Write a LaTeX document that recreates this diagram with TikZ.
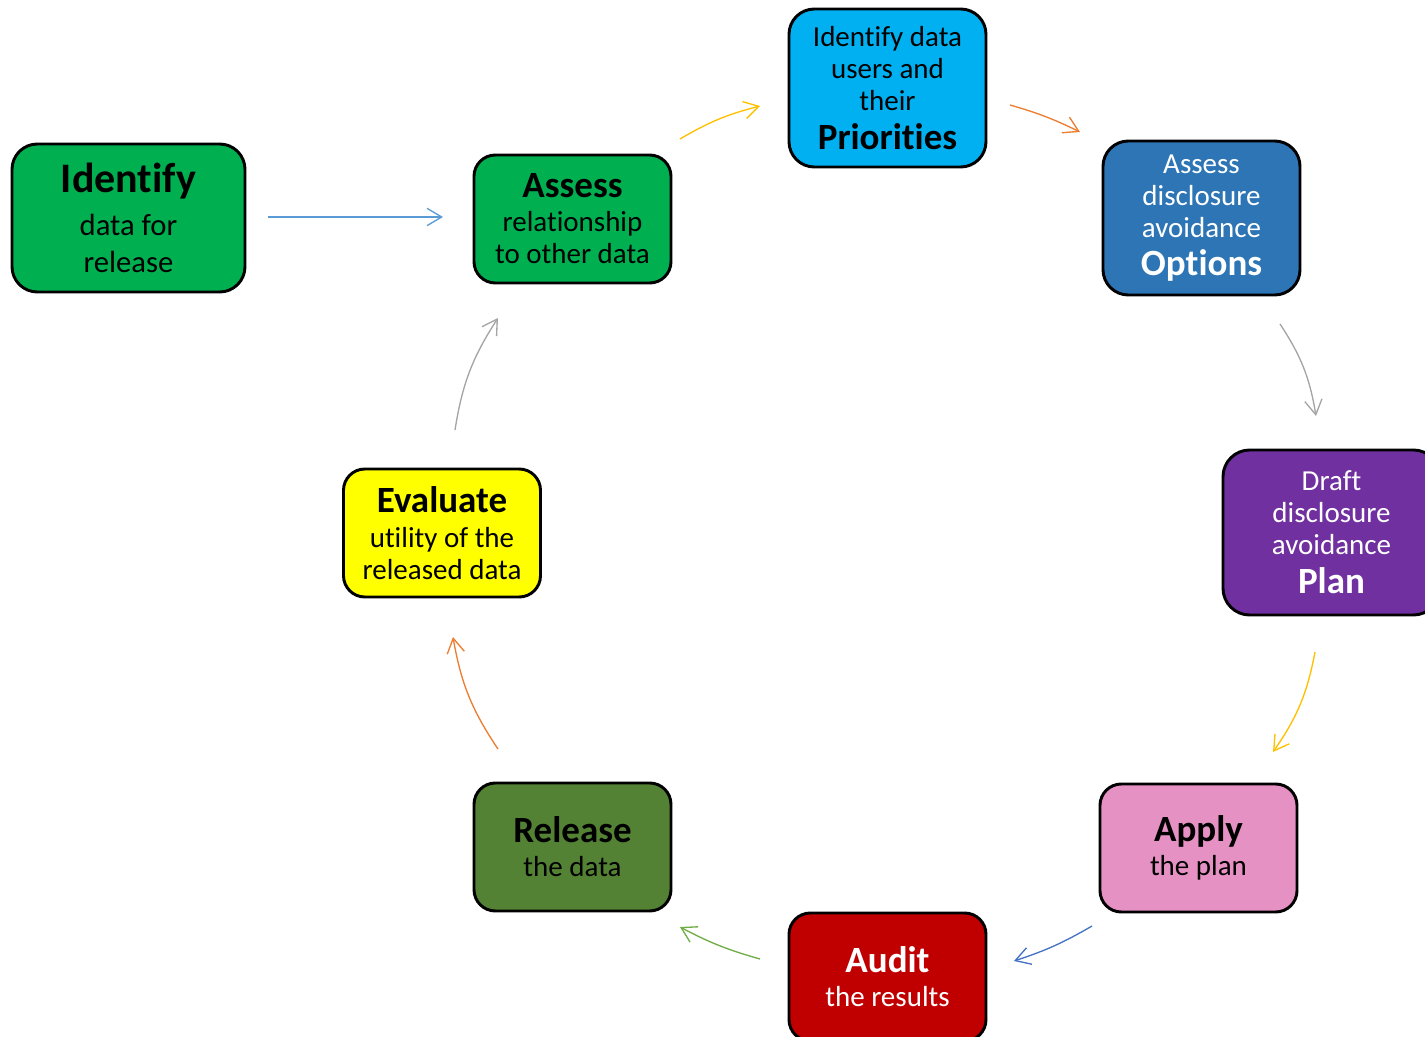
\documentclass[tikz,border=0pt]{standalone}
\usepackage{fontspec}
\setmainfont{Carlito}[Ligatures=NoCommon]
\usetikzlibrary{arrows.meta}
\definecolor{cGreen}{HTML}{00B050}
\definecolor{cCyan}{HTML}{00B0F0}
\definecolor{cBlue}{HTML}{2E75B6}
\definecolor{cPurple}{HTML}{7030A0}
\definecolor{cPink}{HTML}{E691C3}
\definecolor{cRed}{HTML}{C00000}
\definecolor{cOlive}{HTML}{548235}
\definecolor{cYellow}{HTML}{FFFF00}
\definecolor{aBlueL}{HTML}{5B9BD5}
\definecolor{aBlue}{HTML}{4472C4}
\definecolor{aGold}{HTML}{FFC000}
\definecolor{aOrange}{HTML}{ED7D31}
\definecolor{aGray}{HTML}{A5A5A5}
\definecolor{aGreen}{HTML}{70AD47}
\newcommand\steptitle[1]{{\bfseries\fontsize{27.75}{24}\selectfont #1}}
\begin{document}
\begin{tikzpicture}[x=0.75pt,y=0.75pt,
  stage/.style={draw=black, line width=2.2pt, rounded corners=16pt,
    minimum width=147.75pt, minimum height=96pt, inner sep=0pt,
    align=center, font=\fontsize{21.75}{24}\selectfont},
  flow/.style={line width=1pt, -{Straight Barb[length=11pt,width=13pt]}}]
\useasboundingbox (0,0) rectangle (1425,-1037);

\node[stage, fill=cGreen, minimum width=174.75pt, minimum height=111pt, rounded corners=19pt,
  font=\fontsize{23}{27.75}\selectfont] (identify) at (128.5,-218)
  {{\bfseries\fontsize{31.5}{27.75}\selectfont Identify}\\[4.5pt] data for\\ release};
\node[stage, fill=cGreen] (assess) at (572.5,-219)
  {\steptitle{Assess}\\[1.5pt] relationship\\ to other data};
\node[stage, fill=cCyan, minimum height=118.5pt, rounded corners=19pt] (prio) at (887.5,-88)
  {Identify data\\ users and\\ their\\[5pt] \steptitle{Priorities}};
\node[stage, fill=cBlue, text=white, minimum height=115.5pt, rounded corners=19pt] (options) at (1201.5,-218)
  {Assess\\ disclosure\\ avoidance\\[5pt] \steptitle{Options}};
\node[stage, fill=cPurple, text=white, minimum width=162.75pt, minimum height=123.75pt, rounded corners=20pt] (plan) at (1331.5,-532.5)
  {Draft\\ disclosure\\ avoidance\\[5pt] \steptitle{Plan}};
\node[stage, fill=cPink] (apply) at (1198.5,-848)
  {\steptitle{Apply}\\[1.5pt] the plan};
\node[stage, fill=cRed, text=white] (audit) at (887.5,-977)
  {\steptitle{Audit}\\[1.5pt] the results};
\node[stage, fill=cOlive] (release) at (572.5,-847)
  {\steptitle{Release}\\[1.5pt] the data};
\node[stage, fill=cYellow] (evaluate) at (442,-533)
  {\steptitle{Evaluate}\\[2pt] utility of the\\ released data};

\coordinate (a1s) at (268,-217);  \coordinate (a1e) at (443,-217);
\coordinate (a2s) at (680,-139);  \coordinate (a2e) at (760,-106);
\coordinate (a3s) at (1010,-105); \coordinate (a3e) at (1080,-132);
\coordinate (a4s) at (1280,-324); \coordinate (a4e) at (1316,-416);
\coordinate (a5s) at (1315,-652); \coordinate (a5e) at (1273,-752);
\coordinate (a6s) at (1092,-926); \coordinate (a6e) at (1014,-961);
\coordinate (a7s) at (760,-959);  \coordinate (a7e) at (680,-927);
\coordinate (a8s) at (498,-749);  \coordinate (a8e) at (453,-637);
\coordinate (a9s) at (455,-430);  \coordinate (a9e) at (498,-318);

\draw[flow, aBlueL] (a1s) -- (a1e);
\draw[flow, aGold] (a2s) to[bend left=8] (a2e);
\draw[flow, aOrange] (a3s) to[bend left=5] (a3e);
\draw[flow, aGray] (a4s) to[bend left=12] (a4e);
\draw[flow, aGold] (a5s) to[bend left=12] (a5e);
\draw[flow, aBlue] (a6s) to[bend left=6] (a6e);
\draw[flow, aGreen] (a7s) to[bend left=6] (a7e);
\draw[flow, aOrange] (a8s) to[bend left=12] (a8e);
\draw[flow, aGray] (a9s) to[bend left=12] (a9e);
\end{tikzpicture}
\end{document}
